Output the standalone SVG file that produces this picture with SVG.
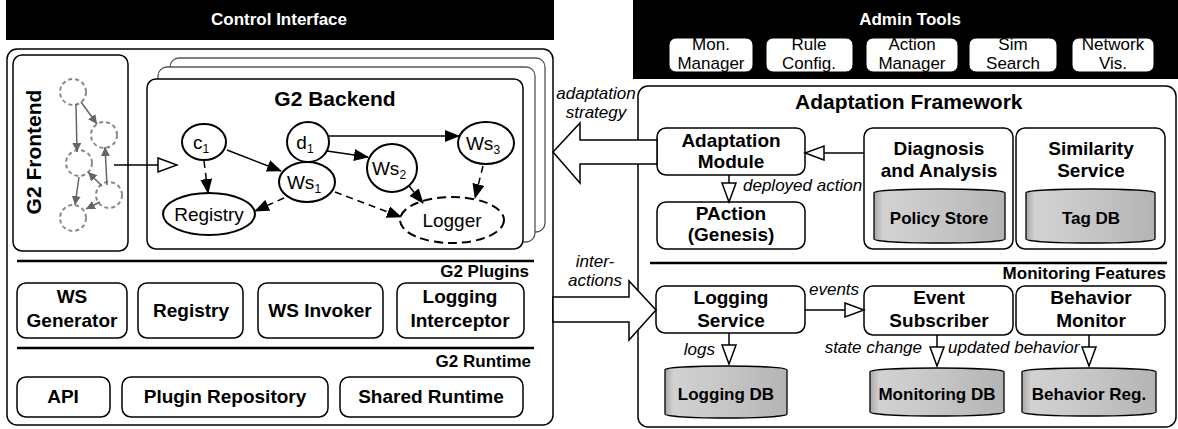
<svg xmlns="http://www.w3.org/2000/svg" width="1178" height="429" viewBox="0 0 1178 429">
<defs>
<style>
text{font-family:"Liberation Sans",Arial,sans-serif;fill:#000}
.bar{fill:#000}
.bartxt{font-size:17px;font-weight:bold;fill:#fff;text-anchor:middle}
.btn{fill:#fff;stroke:#000;stroke-width:1}
.btntxt{font-size:17px;text-anchor:middle}
.box{fill:#fff;stroke:#000;stroke-width:1.5}
.lbl{font-size:19px;font-weight:bold;text-anchor:middle}
.title{font-size:21px;font-weight:bold}
.sec{font-size:17px;font-weight:bold;text-anchor:end}
.sep{stroke:#000;stroke-width:2.5}
.it{font-size:17px;font-style:italic}
.node{fill:#fff;stroke:#000;stroke-width:2}
.ntxt{font-size:19px;text-anchor:middle}
.sub{font-size:12px}
.fe{fill:#fff;stroke:#888;stroke-width:2;stroke-dasharray:4 3}
.feln{stroke:#666;stroke-width:1.5;fill:none}
.ln{stroke:#000;stroke-width:1.5;fill:none}
.dash{stroke-dasharray:7 5}
.cyl{fill:url(#cg);stroke:#000;stroke-width:1.3}
.cyltop{fill:none;stroke:#999;stroke-width:1}
.cyltxt{font-size:17px;font-weight:bold;text-anchor:middle}
.big{fill:#fff;stroke:#000;stroke-width:1.5}
</style>
<linearGradient id="cg" x1="0" y1="0" x2="1" y2="0">
<stop offset="0" stop-color="#a8a8a8"/>
<stop offset="0.07" stop-color="#d2d2d2"/>
<stop offset="0.5" stop-color="#c6c6c6"/>
<stop offset="1" stop-color="#b4b4b4"/>
</linearGradient>
<marker id="ab" markerUnits="userSpaceOnUse" markerWidth="16" markerHeight="12" refX="14" refY="6" orient="auto">
<path d="M0,0 L15,6 L0,12 Z" fill="#000"/>
</marker>
<marker id="ag" markerUnits="userSpaceOnUse" markerWidth="10" markerHeight="10" refX="9" refY="4.5" orient="auto">
<path d="M0,0 L9,4.5 L0,9 Z" fill="#666"/>
</marker>
<marker id="ot" markerUnits="userSpaceOnUse" markerWidth="22" markerHeight="18" refX="20" refY="8" orient="auto">
<path d="M1,1 L20,8 L1,15 Z" fill="#fff" stroke="#000" stroke-width="1.5"/>
</marker>
</defs>

<rect width="1178" height="429" fill="#fff"/>

<!-- Control Interface header -->
<g id="control-interface-bar">
<rect class="bar" x="6" y="0" width="548" height="40"/>
<text class="bartxt" x="279" y="25">Control Interface</text>
</g>

<!-- Admin tools -->
<g id="admin-tools">
<rect class="bar" x="633" y="0" width="545" height="79"/>
<text class="bartxt" x="910" y="25">Admin Tools</text>
</g>
<g id="admin-mon"><rect class="btn" x="669" y="38" width="84" height="34" rx="7"/><text class="btntxt" x="711" y="50">Mon.</text><text class="btntxt" x="711" y="69">Manager</text></g>
<g id="admin-rule"><rect class="btn" x="766" y="38" width="87" height="34" rx="7"/><text class="btntxt" x="809" y="50">Rule</text><text class="btntxt" x="809" y="69">Config.</text></g>
<g id="admin-action"><rect class="btn" x="866" y="38" width="92" height="34" rx="7"/><text class="btntxt" x="912" y="50">Action</text><text class="btntxt" x="912" y="69">Manager</text></g>
<g id="admin-sim"><rect class="btn" x="969" y="38" width="88" height="34" rx="7"/><text class="btntxt" x="1013" y="50">Sim</text><text class="btntxt" x="1013" y="69">Search</text></g>
<g id="admin-net"><rect class="btn" x="1072" y="38" width="82" height="34" rx="7"/><text class="btntxt" x="1113" y="50">Network</text><text class="btntxt" x="1113" y="69">Vis.</text></g>

<!-- Control interface container -->
<g id="control-container">
<rect class="box" x="7" y="49" width="546" height="376" rx="10"/>
<line class="sep" x1="17" y1="261" x2="534" y2="261"/>
<text class="sec" x="529" y="277">G2 Plugins</text>
<line class="sep" x1="17" y1="348" x2="534" y2="348"/>
<text class="sec" x="531" y="367">G2 Runtime</text>
</g>

<!-- G2 Frontend -->
<g id="g2-frontend">
<rect class="box" x="13" y="55" width="115" height="196" rx="9"/>
<text class="title" transform="translate(41,152) rotate(-90)" text-anchor="middle">G2 Frontend</text>
<circle class="fe" cx="73" cy="92" r="13"/>
<circle class="fe" cx="104" cy="135" r="13"/>
<circle class="fe" cx="79" cy="163" r="13"/>
<circle class="fe" cx="109" cy="195" r="13"/>
<circle class="fe" cx="73" cy="218" r="13"/>
<line class="feln" x1="76" y1="104" x2="77" y2="152" marker-end="url(#ag)"/>
<line class="feln" x1="81" y1="102" x2="97" y2="124" marker-end="url(#ag)"/>
<line class="feln" x1="107" y1="185" x2="105" y2="147" marker-end="url(#ag)"/>
<line class="feln" x1="102" y1="186" x2="88" y2="172" marker-end="url(#ag)"/>
<line class="feln" x1="79" y1="177" x2="75" y2="205" marker-end="url(#ag)"/>
<line class="feln" x1="100" y1="202" x2="86" y2="209" marker-end="url(#ag)"/>
</g>

<!-- G2 Backend stack -->
<g id="g2-backend">
<rect x="170" y="58" width="375" height="174" rx="9" fill="#fff" stroke="#555" stroke-width="1.3"/>
<rect x="158" y="67" width="377" height="175" rx="9" fill="#fff" stroke="#555" stroke-width="1.3"/>
<rect class="box" x="147" y="79" width="376" height="170" rx="9"/>
<text class="title" x="335" y="106" text-anchor="middle">G2 Backend</text>
</g>

<g id="node-ws1"><ellipse class="node" cx="307" cy="182" rx="28" ry="20"/><text class="ntxt" x="304" y="189">Ws<tspan class="sub" dy="4">1</tspan></text></g>
<g id="node-d1"><ellipse class="node" cx="308" cy="142" rx="21" ry="20" fill="none" style="fill:none"/><text class="ntxt" x="305" y="149">d<tspan class="sub" dy="4">1</tspan></text></g>
<g id="node-c1"><ellipse class="node" cx="204" cy="142" rx="22" ry="18"/><text class="ntxt" x="201" y="149">c<tspan class="sub" dy="4">1</tspan></text></g>
<g id="node-ws2"><ellipse class="node" cx="392" cy="168" rx="25" ry="24"/><text class="ntxt" x="389" y="175">Ws<tspan class="sub" dy="4">2</tspan></text></g>
<g id="node-ws3"><ellipse class="node" cx="486" cy="143" rx="28" ry="21"/><text class="ntxt" x="483" y="150">Ws<tspan class="sub" dy="4">3</tspan></text></g>
<g id="node-registry"><ellipse class="node" cx="209" cy="214" rx="46" ry="21" stroke-width="2.5"/><text class="ntxt" x="209" y="221">Registry</text></g>
<g id="node-logger"><ellipse class="node" cx="452" cy="220" rx="52" ry="23" stroke-width="2.5" stroke-dasharray="9 5"/><text class="ntxt" x="452" y="227">Logger</text></g>

<!-- Plugins -->
<g id="plugin-wsgen"><rect class="box" x="17" y="283" width="110" height="55" rx="9"/><text class="lbl" x="72" y="303">WS</text><text class="lbl" x="72" y="327">Generator</text></g>
<g id="plugin-registry"><rect class="box" x="138" y="283" width="105" height="55" rx="9"/><text class="lbl" x="191" y="317">Registry</text></g>
<g id="plugin-wsinvoker"><rect class="box" x="258" y="283" width="125" height="55" rx="9"/><text class="lbl" x="320" y="317">WS Invoker</text></g>
<g id="plugin-logint"><rect class="box" x="397" y="283" width="127" height="55" rx="9"/><text class="lbl" x="460" y="303">Logging</text><text class="lbl" x="460" y="327">Interceptor</text></g>

<!-- Runtime -->
<g id="rt-api"><rect class="box" x="17" y="377" width="93" height="40" rx="9"/><text class="lbl" x="63" y="403">API</text></g>
<g id="rt-plugrepo"><rect class="box" x="122" y="377" width="206" height="40" rx="9"/><text class="lbl" x="225" y="403">Plugin Repository</text></g>
<g id="rt-shared"><rect class="box" x="340" y="377" width="183" height="40" rx="9"/><text class="lbl" x="431" y="403">Shared Runtime</text></g>

<!-- Adaptation Framework -->
<g id="adaptation-framework">
<rect class="box" x="638" y="86" width="538" height="341" rx="10"/>
<text class="title" x="795" y="109">Adaptation Framework</text>
<line class="sep" x1="650" y1="263" x2="1167" y2="263"/>
<text class="sec" x="1166" y="279">Monitoring Features</text>
</g>
<g id="adaptation-module"><rect class="box" x="657" y="128" width="148" height="47" rx="9"/><text class="lbl" x="731" y="147">Adaptation</text><text class="lbl" x="731" y="168">Module</text></g>
<g id="diagnosis"><rect class="box" x="864" y="128" width="149" height="121" rx="9"/><text class="lbl" x="939" y="155">Diagnosis</text><text class="lbl" x="939" y="177">and Analysis</text>
<path class="cyl" d="M874,193 A65.5,4 0 0 1 1005,193 V239 A65.5,4 0 0 1 874,239 Z"/>
<text class="cyltxt" x="939" y="224">Policy Store</text></g>
<g id="similarity"><rect class="box" x="1016" y="128" width="149" height="121" rx="9"/><text class="lbl" x="1091" y="155">Similarity</text><text class="lbl" x="1091" y="177">Service</text>
<path class="cyl" d="M1026,193 A64.5,4 0 0 1 1155,193 V239 A64.5,4 0 0 1 1026,239 Z"/>
<text class="cyltxt" x="1091" y="224">Tag DB</text></g>
<g id="paction"><rect class="box" x="657" y="202" width="148" height="47" rx="9"/><text class="lbl" x="731" y="220">PAction</text><text class="lbl" x="731" y="241">(Genesis)</text></g>

<g id="logging-service"><rect class="box" x="656" y="286" width="149" height="47" rx="9"/><text class="lbl" x="731" y="304">Logging</text><text class="lbl" x="731" y="327">Service</text></g>
<g id="event-subscriber"><rect class="box" x="864" y="286" width="149" height="49" rx="9"/><text class="lbl" x="939" y="304">Event</text><text class="lbl" x="939" y="327">Subscriber</text></g>
<g id="behavior-monitor"><rect class="box" x="1016" y="286" width="149" height="49" rx="9"/><text class="lbl" x="1091" y="304">Behavior</text><text class="lbl" x="1091" y="327">Monitor</text></g>

<g id="logging-db"><path class="cyl" d="M665,370 A61,4 0 0 1 787,370 V414 A61,4 0 0 1 665,414 Z"/><text class="cyltxt" x="726" y="400">Logging DB</text></g>
<g id="monitoring-db"><path class="cyl" d="M870,372 A67,4 0 0 1 1004,372 V412 A67,4 0 0 1 870,412 Z"/><text class="cyltxt" x="937" y="400">Monitoring DB</text></g>
<g id="behavior-reg"><path class="cyl" d="M1022,372 A67,4 0 0 1 1156,372 V412 A67,4 0 0 1 1022,412 Z"/><text class="cyltxt" x="1089" y="400">Behavior Reg.</text></g>

<!-- Connectors -->
<g id="connectors">
<line class="ln" x1="114" y1="165" x2="177" y2="165" marker-end="url(#ot)"/>
<line class="ln" x1="227" y1="150" x2="281" y2="171" marker-end="url(#ab)"/>
<line class="ln dash" x1="204" y1="161" x2="208" y2="193" marker-end="url(#ab)"/>
<line class="ln dash" x1="284" y1="198" x2="255" y2="211" marker-end="url(#ab)"/>
<line class="ln dash" x1="335" y1="192" x2="401" y2="217" marker-end="url(#ab)"/>
<line class="ln" x1="327" y1="151" x2="368" y2="157" marker-end="url(#ab)"/>
<line class="ln" x1="329" y1="136" x2="459" y2="136" marker-end="url(#ab)"/>
<line class="ln" x1="409" y1="186" x2="423" y2="203" marker-end="url(#ab)"/>
<line class="ln dash" x1="483" y1="166" x2="475" y2="198" marker-end="url(#ab)"/>

<polygon class="big" points="657,140 580,140 580,123 553,152 580,183 580,164 657,164"/>
<text class="it" x="596" y="99" text-anchor="middle">adaptation</text>
<text class="it" x="596" y="118" text-anchor="middle">strategy</text>

<polygon class="big" points="553,297 629,297 629,281 656,310 629,340 629,322 553,322"/>
<text class="it" x="595" y="267" text-anchor="middle">inter-</text>
<text class="it" x="595" y="286" text-anchor="middle">actions</text>

<line class="ln" x1="864" y1="153" x2="805" y2="153" marker-end="url(#ot)"/>
<line class="ln" x1="729" y1="175" x2="729" y2="202" marker-end="url(#ot)"/>
<text class="it" x="743" y="191">deployed action</text>

<line class="ln" x1="805" y1="310" x2="864" y2="310" marker-end="url(#ot)"/>
<text class="it" x="809" y="295">events</text>

<line class="ln" x1="729" y1="333" x2="729" y2="364" marker-end="url(#ot)"/>
<text class="it" x="715" y="355" text-anchor="end">logs</text>

<line class="ln" x1="937" y1="335" x2="937" y2="366" marker-end="url(#ot)"/>
<text class="it" x="922" y="353" text-anchor="end">state change</text>

<line class="ln" x1="1089" y1="335" x2="1089" y2="366" marker-end="url(#ot)"/>
<text class="it" x="948" y="353">updated behavior</text>
</g>
</svg>
